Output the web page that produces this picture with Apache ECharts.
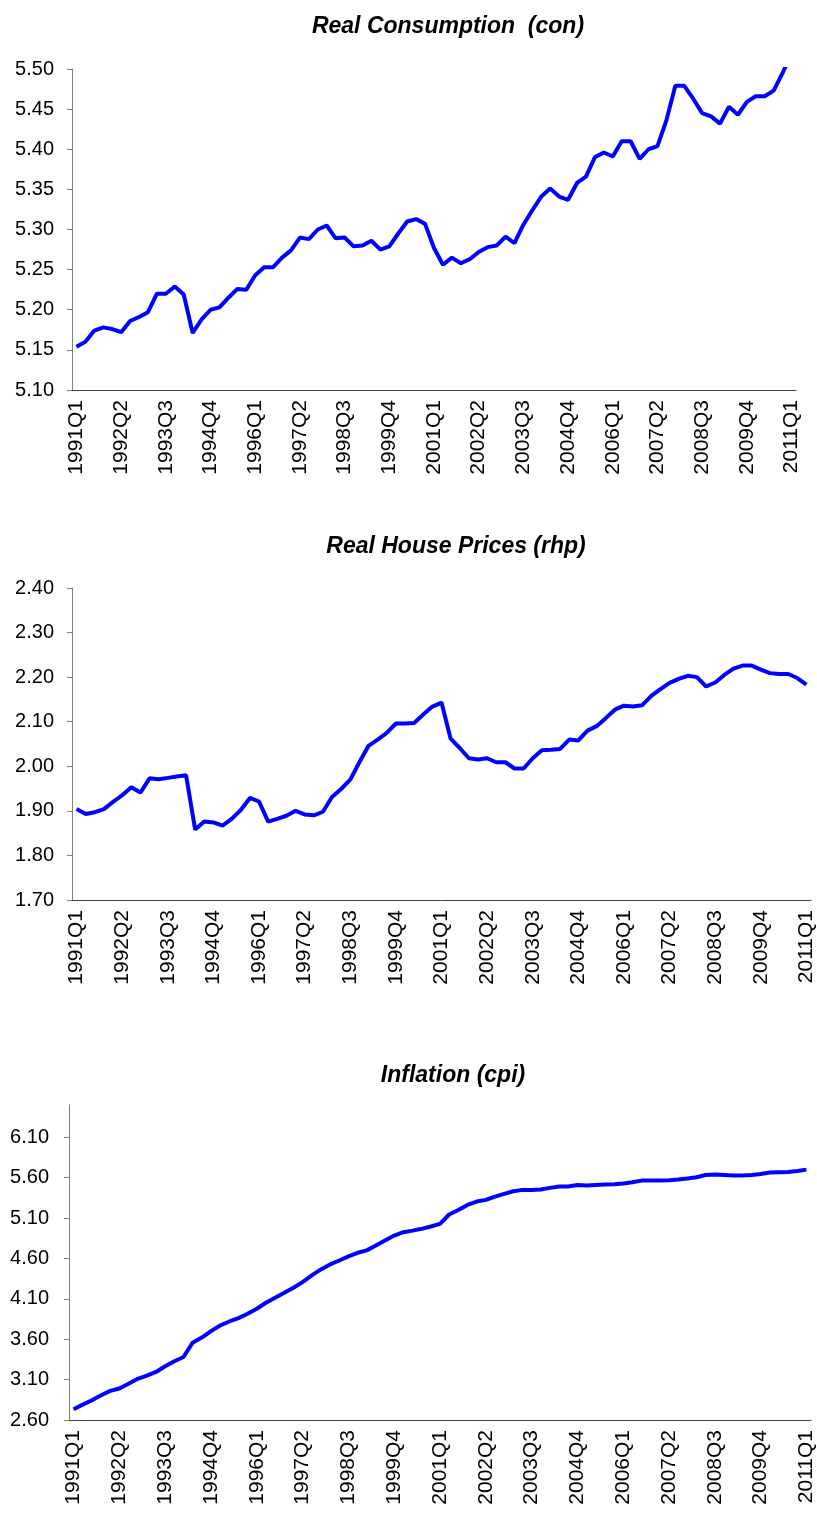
<!DOCTYPE html>
<html>
<head>
<meta charset="utf-8">
<script src="https://cdn.jsdelivr.net/npm/echarts@6/dist/echarts.min.js"></script>
<style>
  html, body { margin: 0; padding: 0; background: #fff; }
  #main { width: 817px; height: 1514px; }
</style>
</head>
<body>
<div id="main"></div>
<script>
// quarters 1991Q1 .. 2011Q1
var quarters = [];
for (var y = 1991; y <= 2011; y++) {
  for (var q = 1; q <= 4; q++) {
    if (y === 2011 && q > 1) break;
    quarters.push(y + 'Q' + q);
  }
}

// real consumption (con)
var con = [
  5.154, 5.160, 5.174, 5.178, 5.176, 5.172, 5.186, 5.191, 5.197, 5.220,
  5.220, 5.229, 5.219, 5.171, 5.188, 5.200, 5.203, 5.215, 5.226, 5.225,
  5.243, 5.253, 5.253, 5.265, 5.274, 5.290, 5.288, 5.300, 5.305, 5.289,
  5.290, 5.279, 5.280, 5.286, 5.275, 5.279, 5.295, 5.310, 5.313, 5.307,
  5.277, 5.256, 5.265, 5.258, 5.263, 5.272, 5.278, 5.280, 5.291, 5.283,
  5.306, 5.324, 5.341, 5.351, 5.341, 5.337, 5.358, 5.366, 5.390, 5.396,
  5.391, 5.410, 5.410, 5.388, 5.400, 5.404, 5.436, 5.479, 5.479, 5.463,
  5.445, 5.441, 5.432, 5.453, 5.443, 5.459, 5.466, 5.466, 5.473, 5.495,
  5.520
];

// real house prices (rhp)
var rhp = [
  1.904, 1.893, 1.897, 1.904, 1.920, 1.935, 1.953, 1.941, 1.973, 1.971,
  1.974, 1.977, 1.980, 1.858, 1.876, 1.874, 1.867, 1.882, 1.902, 1.929,
  1.921, 1.876, 1.882, 1.889, 1.900, 1.892, 1.890, 1.898, 1.931, 1.949,
  1.970, 2.009, 2.046, 2.060, 2.075, 2.096, 2.096, 2.097, 2.116, 2.134,
  2.143, 2.062, 2.041, 2.018, 2.015, 2.018, 2.009, 2.009, 1.995, 1.995,
  2.018, 2.036, 2.037, 2.039, 2.060, 2.058, 2.080, 2.090, 2.108, 2.127,
  2.136, 2.134, 2.137, 2.158, 2.173, 2.187, 2.196, 2.203, 2.200, 2.179,
  2.188, 2.205, 2.219, 2.226, 2.226, 2.217, 2.209, 2.207, 2.207, 2.198,
  2.183
];

// inflation (cpi)
var cpi = [
  2.733, 2.790, 2.845, 2.906, 2.960, 2.990, 3.050, 3.110, 3.150, 3.195,
  3.265, 3.327, 3.380, 3.557, 3.620, 3.700, 3.770, 3.820, 3.862, 3.916,
  3.978, 4.052, 4.114, 4.175, 4.237, 4.307, 4.390, 4.464, 4.526, 4.575,
  4.625, 4.670, 4.700, 4.760, 4.823, 4.884, 4.925, 4.945, 4.967, 4.996,
  5.028, 5.144, 5.200, 5.263, 5.305, 5.325, 5.366, 5.400, 5.432, 5.449,
  5.449, 5.453, 5.474, 5.490, 5.490, 5.510, 5.502, 5.510, 5.515, 5.519,
  5.527, 5.544, 5.564, 5.564, 5.564, 5.568, 5.577, 5.589, 5.605, 5.634,
  5.638, 5.634, 5.626, 5.626, 5.634, 5.647, 5.663, 5.667, 5.671, 5.684,
  5.700
];

var cpiTicks = [2.6, 3.1, 3.6, 4.1, 4.6, 5.1, 5.6, 6.1];

var fontFam = '"Liberation Sans", Arial, sans-serif';

function xAx(idx) {
  return {
    type: 'category',
    gridIndex: idx,
    data: quarters,
    boundaryGap: true,
    axisLine: { lineStyle: { color: '#404040', width: 1 } },
    axisTick: { show: false },
    axisLabel: {
      interval: 4,
      rotate: 90,
      margin: 10,
      color: '#000',
      fontSize: 21,
      fontFamily: fontFam
    },
    splitLine: { show: false }
  };
}

function yAx(idx, min, max, step, gap) {
  return {
    type: 'value',
    gridIndex: idx,
    min: min,
    max: max,
    interval: step,
    axisLine: { show: true, lineStyle: { color: '#808080', width: 1 } },
    axisTick: { show: true, inside: false, length: 5, lineStyle: { color: '#808080' } },
    axisLabel: {
      margin: gap,
      color: '#000',
      fontSize: 20,
      fontFamily: fontFam,
      formatter: function (v) { return v.toFixed(2); }
    },
    splitLine: { show: false }
  };
}

function ttl(text, cx, top) {
  return {
    text: text,
    left: cx,
    top: top,
    textAlign: 'center',
    textStyle: {
      fontSize: 23,
      fontWeight: 'bold',
      fontStyle: 'italic',
      color: '#000',
      fontFamily: fontFam
    }
  };
}

function line(idx, data) {
  return {
    type: 'line',
    xAxisIndex: idx,
    yAxisIndex: idx,
    data: data,
    symbol: 'none',
    clip: true,
    lineStyle: { color: '#0000ff', width: 4 }
  };
}

var y3 = yAx(2, 2.6, 6.5, 0.5, 20);
y3.axisLabel.customValues = cpiTicks;
y3.axisTick.customValues = cpiTicks;

var chart = echarts.init(document.getElementById('main'));
chart.setOption({
  animation: false,
  backgroundColor: '#fff',
  title: [
    ttl('Real Consumption  (con)', 443, 10),
    ttl('Real House Prices (rhp)', 451, 530),
    ttl('Inflation (cpi)', 448, 1059)
  ],
  grid: [
    { left: 72, top: 69, width: 724, height: 321 },
    { left: 72, top: 588, width: 739, height: 312 },
    { left: 69, top: 1105, width: 742, height: 315 }
  ],
  xAxis: [xAx(0), xAx(1), xAx(2)],
  yAxis: [
    yAx(0, 5.10, 5.50, 0.05, 18),
    yAx(1, 1.70, 2.40, 0.10, 18),
    y3
  ],
  series: [line(0, con), line(1, rhp), line(2, cpi)]
});
</script>
</body>
</html>
